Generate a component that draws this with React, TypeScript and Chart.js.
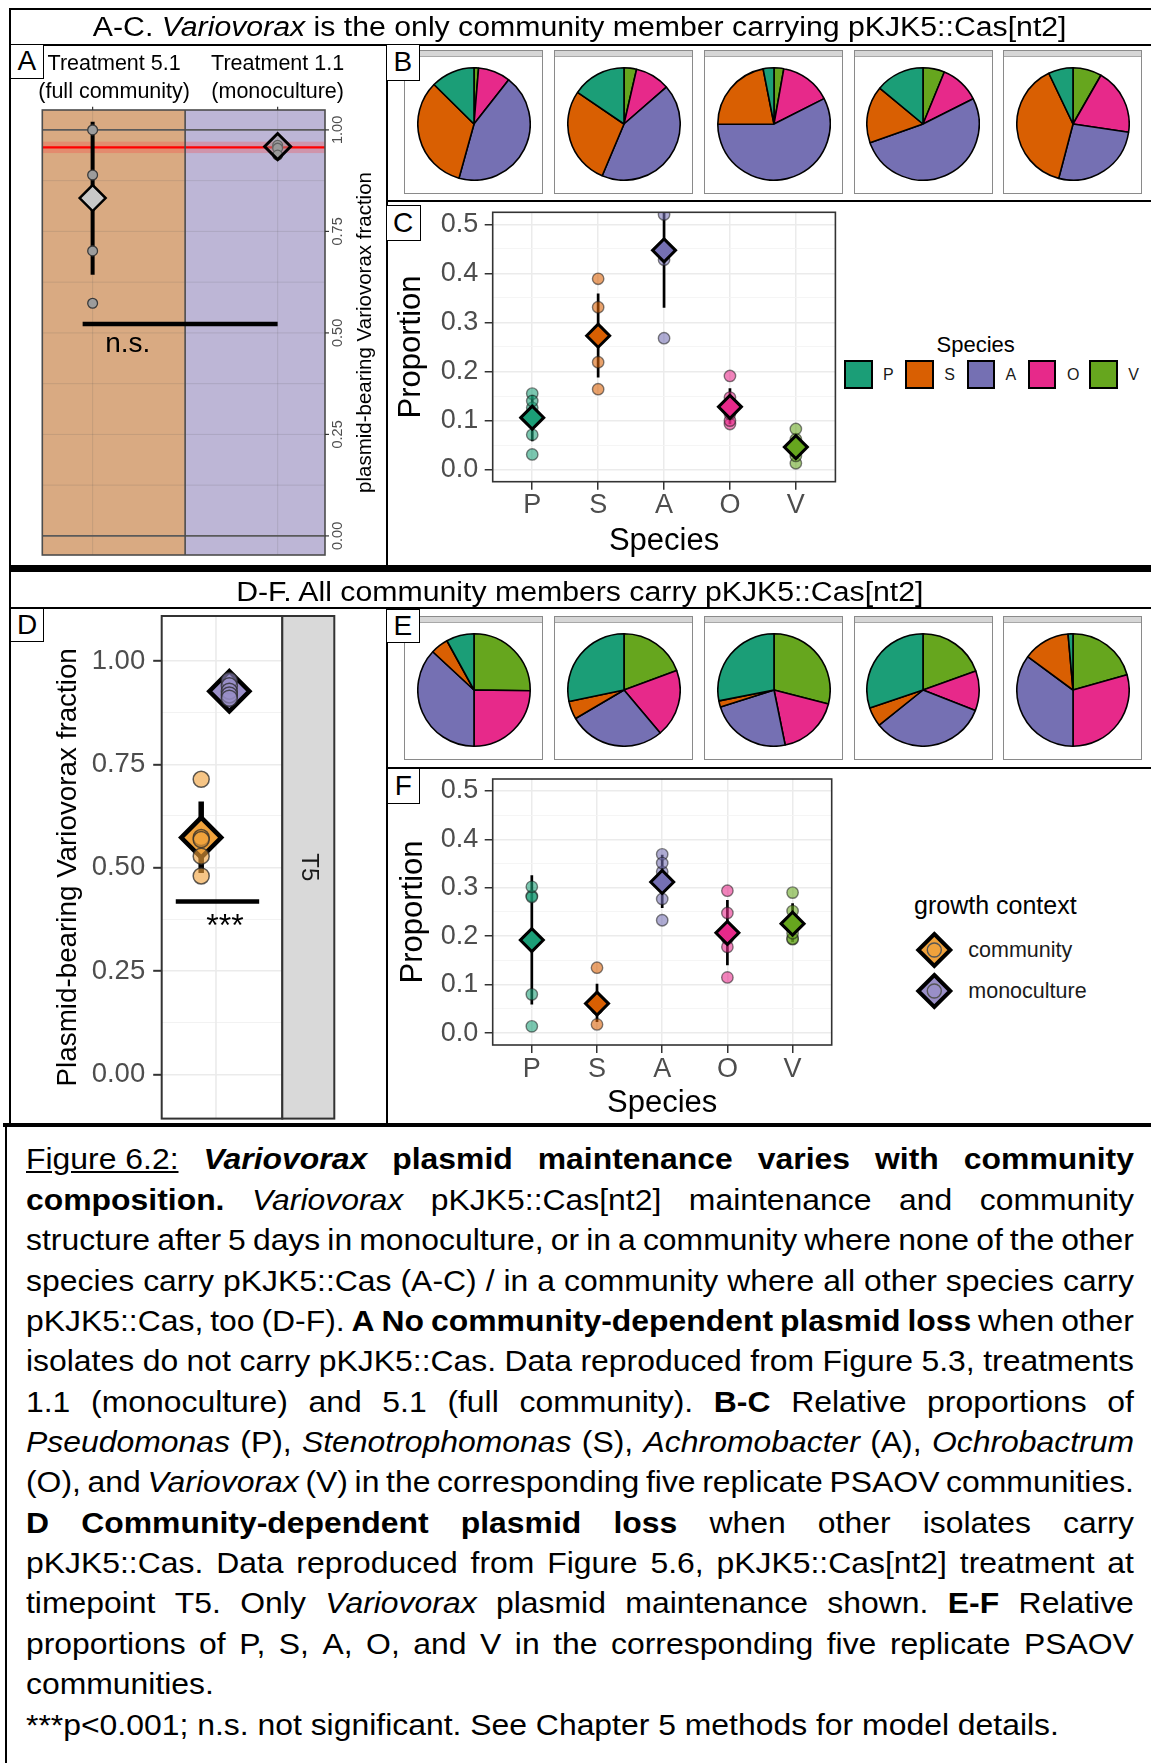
import React, { useEffect, useRef } from 'react';
import { Chart, registerables } from 'chart.js';

Chart.register(...registerables);

const FONT = '"Liberation Sans", Arial, Helvetica, sans-serif';
Chart.defaults.font.family = FONT;

// ---------------------------------------------------------------------------
// Species (Dark2 palette)
const SPECIES = ['P', 'S', 'A', 'O', 'V'];
const SPECIES_COLORS = ['#1B9E77', '#D95F02', '#7570B3', '#E7298A', '#66A61E'];
// pies run clockwise from 12 o'clock: V, O, A, S, P
const PIE_ORDER = [4, 3, 2, 1, 0];

// B-C: treatment 5.1 communities, species proportion in replicates 1-5
const fullP = [0.126, 0.155, 0.031, 0.14, 0.071];
const fullS = [0.331, 0.282, 0.219, 0.164, 0.389];
const fullA = [0.437, 0.428, 0.573, 0.52, 0.268];
const fullO = [0.093, 0.1, 0.147, 0.114, 0.191];
const fullV = [0.013, 0.036, 0.028, 0.062, 0.083];
const fullMean = [0.106, 0.273, 0.447, 0.128, 0.046];
const fullLower = [0.058, 0.188, 0.33, 0.093, 0.022];
const fullUpper = [0.152, 0.359, 0.56, 0.166, 0.071];

// E-F: T5 communities where every member carries the plasmid
const allP = [0.08, 0.283, 0.281, 0.302, 0.014];
const allS = [0.051, 0.052, 0.018, 0.056, 0.135];
const allA = [0.369, 0.277, 0.233, 0.333, 0.351];
const allO = [0.248, 0.195, 0.178, 0.115, 0.294];
const allV = [0.252, 0.194, 0.29, 0.195, 0.206];
const allMean = [0.192, 0.061, 0.312, 0.207, 0.226];
const allLower = [0.059, 0.023, 0.258, 0.14, 0.188];
const allUpper = [0.326, 0.102, 0.368, 0.275, 0.268];

const fullShares = [fullP, fullS, fullA, fullO, fullV];
const allShares = [allP, allS, allA, allO, allV];

const PROPORTION_MAJOR = [0, 0.1, 0.2, 0.3, 0.4, 0.5];
const PROPORTION_MINOR = [0.05, 0.15, 0.25, 0.35, 0.45];

// A: plasmid-bearing Variovorax fraction
const TREATMENT_LABELS = [
  ['Treatment 5.1', '(full community)'],
  ['Treatment 1.1', '(monoculture)'],
];
const fullCommunityFraction = [1.0, 0.889, 0.702, 0.573];
const monocultureFraction = [0.962, 0.955, 0.938];
const treatmentMean = [0.832, 0.959];
const treatmentLower = [0.643, 0.945];
const treatmentUpper = [1.02, 0.972];
const ancestralFraction = 0.957;
const ancestralRange = [0.943, 0.971];
const nsLevel = 0.522;

// D: T5, every member carries pKJK5::Cas[nt2]
const GROWTH_CONTEXT = ['community', 'monoculture'];
const communityT5 = [0.714, 0.573, 0.568, 0.528, 0.48];
const monocultureT5 = [0.953, 0.94, 0.927, 0.918, 0.91];
const contextMean = [0.573, 0.927];
const contextLower = [0.487, 0.915];
const contextUpper = [0.66, 0.939];
const sigLevel = 0.418;

const FRACTION_MAJOR = [0, 0.25, 0.5, 0.75, 1];
const FRACTION_MINOR = [0.125, 0.375, 0.625, 0.875];

// ---------------------------------------------------------------------------
const hexA = (hex: string, a: number) => {
  const n = parseInt(hex.slice(1), 16);
  return `rgba(${(n >> 16) & 255},${(n >> 8) & 255},${n & 255},${a})`;
};
const inList = (list: number[], v: number) => list.some((m) => Math.abs(m - v) < 1e-6);

const BASE: any = {
  responsive: false,
  animation: false,
  devicePixelRatio: 1,
  events: [],
  plugins: { legend: { display: false }, tooltip: { enabled: false } },
};

// fixed axis box sizes; labels may overhang the plot edges
const fixWidth = (w: number) => (sc: any) => {
  sc.width = w;
  sc.paddingTop = 0;
  sc.paddingBottom = 0;
};
const fixHeight = (h: number) => (sc: any) => {
  sc.height = h;
  sc.paddingLeft = 0;
  sc.paddingRight = 0;
};

const panelBorder = (color: string, width: number) => ({
  id: 'panelBorder',
  afterDatasetsDraw(chart: any) {
    const { ctx, chartArea: a } = chart;
    ctx.save();
    ctx.strokeStyle = color;
    ctx.lineWidth = width;
    ctx.strokeRect(a.left, a.top, a.right - a.left, a.bottom - a.top);
    ctx.restore();
  },
});

// ---------------------------------------------------------------------------
// Panel A
const BAND_COLORS = ['#D9AA82', '#BDB6D6'];
const panelAPlugin = {
  id: 'panelA',
  beforeDatasetsDraw(chart: any) {
    const { ctx, chartArea: a, scales } = chart;
    const x = scales.x;
    const y = scales.y;
    const hline = (py: number) => {
      ctx.beginPath();
      ctx.moveTo(a.left, py);
      ctx.lineTo(a.right, py);
      ctx.stroke();
    };
    const vline = (px: number) => {
      ctx.beginPath();
      ctx.moveTo(px, a.top);
      ctx.lineTo(px, a.bottom);
      ctx.stroke();
    };
    const mid = x.getPixelForValue(0.5);
    ctx.save();
    ctx.fillStyle = BAND_COLORS[0];
    ctx.fillRect(a.left, a.top, mid - a.left, a.bottom - a.top);
    ctx.fillStyle = BAND_COLORS[1];
    ctx.fillRect(mid, a.top, a.right - mid, a.bottom - a.top);

    ctx.strokeStyle = 'rgba(90,90,90,0.16)';
    ctx.lineWidth = 1;
    [...FRACTION_MAJOR.slice(1, 4), ...FRACTION_MINOR].forEach((v) => hline(y.getPixelForValue(v)));
    TREATMENT_LABELS.forEach((_, i) => vline(x.getPixelForValue(i)));

    ctx.strokeStyle = '#5A5A5A';
    ctx.lineWidth = 1.6;
    [0, 1].forEach((v) => hline(y.getPixelForValue(v)));

    const t = y.getPixelForValue(ancestralRange[1]);
    const b = y.getPixelForValue(ancestralRange[0]);
    ctx.fillStyle = 'rgba(255,60,60,0.28)';
    ctx.fillRect(a.left, t, a.right - a.left, b - t);
    ctx.strokeStyle = '#FF0000';
    ctx.lineWidth = 2.2;
    hline(y.getPixelForValue(ancestralFraction));

    ctx.strokeStyle = '#4D4D4D';
    ctx.lineWidth = 1.6;
    ctx.strokeRect(a.left, a.top, a.right - a.left, a.bottom - a.top);
    vline(mid);
    ctx.restore();
  },
  afterDatasetsDraw(chart: any) {
    const { ctx, scales } = chart;
    ctx.save();
    ctx.fillStyle = '#000';
    ctx.font = `28px ${FONT}`;
    ctx.textAlign = 'center';
    ctx.textBaseline = 'alphabetic';
    ctx.fillText('n.s.', scales.x.getPixelForValue(0.19), scales.y.getPixelForValue(nsLevel) + 28.5);
    ctx.restore();
  },
  afterDraw(chart: any) {
    const { ctx, chartArea: a, scales } = chart;
    const x = scales.x;
    const y = scales.y;
    ctx.save();
    // right-hand axis
    ctx.strokeStyle = '#333';
    ctx.lineWidth = 1.2;
    ctx.fillStyle = '#4D4D4D';
    ctx.font = `14.5px ${FONT}`;
    ctx.textAlign = 'center';
    ctx.textBaseline = 'middle';
    FRACTION_MAJOR.forEach((v) => {
      const py = y.getPixelForValue(v);
      ctx.beginPath();
      ctx.moveTo(a.right, py);
      ctx.lineTo(a.right + 4, py);
      ctx.stroke();
      ctx.save();
      ctx.translate(a.right + 13, py);
      ctx.rotate(-Math.PI / 2);
      ctx.fillText(v.toFixed(2), 0, 0);
      ctx.restore();
    });
    ctx.save();
    ctx.translate(a.right + 40, (a.top + a.bottom) / 2);
    ctx.rotate(-Math.PI / 2);
    ctx.fillStyle = '#000';
    ctx.font = `20.5px ${FONT}`;
    ctx.fillText('plasmid-bearing Variovorax fraction', 0, 0);
    ctx.restore();
    // treatment headers on the top axis
    const nudge = [21.5, 0];
    ctx.fillStyle = '#000';
    ctx.font = `21.5px ${FONT}`;
    TREATMENT_LABELS.forEach((lines, i) => {
      const px = x.getPixelForValue(i);
      ctx.beginPath();
      ctx.moveTo(px, a.top - 3.3);
      ctx.lineTo(px, a.top);
      ctx.stroke();
      lines.forEach((ln, j) => ctx.fillText(ln, px + nudge[i], a.top - 46 + j * 27.7));
    });
    ctx.restore();
  },
};

function buildPanelA(): any {
  const errorBars = TREATMENT_LABELS.map((_, i) => ({
    data: [
      { x: i, y: treatmentLower[i] },
      { x: i, y: treatmentUpper[i] },
    ],
    showLine: true,
    borderColor: '#000',
    borderWidth: 4,
    pointRadius: 0,
    order: 3,
  }));
  return {
    type: 'scatter',
    data: {
      datasets: [
        ...errorBars,
        {
          data: [
            { x: -0.054, y: nsLevel },
            { x: 1, y: nsLevel },
          ],
          showLine: true,
          borderColor: '#000',
          borderWidth: 4.5,
          pointRadius: 0,
          order: 4,
        },
        {
          data: [
            ...fullCommunityFraction.map((v) => ({ x: 0, y: v })),
            ...monocultureFraction.map((v) => ({ x: 1, y: v })),
          ],
          pointRadius: 4.9,
          pointBackgroundColor: '#9C9C9C',
          pointBorderColor: '#3A3A3A',
          pointBorderWidth: 1.3,
          order: 2,
        },
        {
          data: treatmentMean.map((v, i) => ({ x: i, y: v })),
          pointStyle: 'rectRot',
          pointRadius: 13,
          pointBackgroundColor: ['#C8C8C8', 'rgba(150,150,150,0.45)'],
          pointBorderColor: '#000',
          pointBorderWidth: [2.5, 3],
          order: 1,
        },
      ],
    },
    options: {
      ...BASE,
      layout: { autoPadding: false, padding: { left: 32.3, top: 65, right: 61, bottom: 10 } },
      scales: {
        x: { type: 'linear', display: false, min: -0.272, max: 1.256 },
        y: { type: 'linear', display: false, min: -0.047, max: 1.049 },
      },
    },
    plugins: [panelAPlugin],
  };
}

// ---------------------------------------------------------------------------
// Panels C and F
function buildProportion(
  shares: number[][],
  mean: number[],
  lower: number[],
  upper: number[],
  g: { pad: any; yWidth: number; xHeight: number; yTitlePad: number; xTitlePad: number }
): any {
  const datasets: any[] = [];
  SPECIES.forEach((s, i) => {
    datasets.push({
      label: `${s} interval`,
      data: [
        { x: i, y: lower[i] },
        { x: i, y: upper[i] },
      ],
      showLine: true,
      borderColor: '#000',
      borderWidth: 2.7,
      pointRadius: 0,
      order: 3,
    });
    datasets.push({
      label: `${s} replicates`,
      data: shares[i].map((v) => ({ x: i, y: v })),
      pointRadius: 5.7,
      pointBackgroundColor: hexA(SPECIES_COLORS[i], 0.58),
      pointBorderColor: 'rgba(30,30,30,0.55)',
      pointBorderWidth: 1.4,
      order: 2,
    });
    datasets.push({
      label: `${s} mean`,
      data: [{ x: i, y: mean[i] }],
      pointStyle: 'rectRot',
      pointRadius: 11.5,
      pointBackgroundColor: SPECIES_COLORS[i],
      pointBorderColor: '#000',
      pointBorderWidth: 3,
      order: 1,
    });
  });
  const major = (c: any) => c.tick && inList(PROPORTION_MAJOR, c.tick.value);
  return {
    type: 'scatter',
    data: { datasets },
    options: {
      ...BASE,
      layout: { autoPadding: false, padding: g.pad },
      scales: {
        x: {
          type: 'linear',
          min: -0.6,
          max: SPECIES.length - 0.4,
          afterBuildTicks: (sc: any) => {
            sc.ticks = SPECIES.map((_, i) => ({ value: i }));
          },
          afterFit: fixHeight(g.xHeight),
          ticks: {
            callback: (v: any) => SPECIES[Math.round(v)] ?? '',
            font: { size: 27 },
            color: '#4D4D4D',
            padding: 0,
            maxRotation: 0,
            autoSkip: false,
          },
          grid: { color: '#EBEBEB', lineWidth: 1.5, tickLength: 8, tickColor: '#333', tickWidth: 1.5 },
          border: { display: false },
          title: {
            display: true,
            text: 'Species',
            font: { size: 31 },
            color: '#000',
            padding: { top: 0, bottom: g.xTitlePad },
          },
        },
        y: {
          type: 'linear',
          min: -0.0245,
          max: 0.5245,
          afterBuildTicks: (sc: any) => {
            sc.ticks = [...PROPORTION_MAJOR, ...PROPORTION_MINOR].sort((p, q) => p - q).map((v) => ({ value: v }));
          },
          afterFit: fixWidth(g.yWidth),
          ticks: {
            callback: (v: any) => (inList(PROPORTION_MAJOR, v) ? Number(v).toFixed(1) : ''),
            font: { size: 27 },
            color: '#4D4D4D',
            padding: 6.4,
            autoSkip: false,
          },
          grid: {
            color: (c: any) => (major(c) ? '#EBEBEB' : '#F4F4F4'),
            lineWidth: (c: any) => (major(c) ? 1.5 : 0.9),
            tickLength: 8,
            tickColor: (c: any) => (major(c) ? '#333' : 'rgba(0,0,0,0)'),
            tickWidth: 1.5,
          },
          border: { display: false },
          title: {
            display: true,
            text: 'Proportion',
            font: { size: 31 },
            color: '#000',
            padding: { top: g.yTitlePad, bottom: 0 },
          },
        },
      },
    },
    plugins: [panelBorder('#333', 1.6)],
  };
}

const buildPanelC = () =>
  buildProportion(fullShares, fullMean, fullLower, fullUpper, {
    pad: { left: 0, top: 7.3, right: 4.6, bottom: 0 },
    yWidth: 102.7,
    xHeight: 83.3,
    yTitlePad: 3.1,
    xTitlePad: 4.7,
  });

const buildPanelF = () =>
  buildProportion(allShares, allMean, allLower, allUpper, {
    pad: { left: 0, top: 7, right: 8.3, bottom: 0 },
    yWidth: 102.7,
    xHeight: 78,
    yTitlePad: 4.7,
    xTitlePad: 1.1,
  });

// ---------------------------------------------------------------------------
// Panel D
const CONTEXT_FILL = ['#F0A23C', '#9A8FC8'];
const CONTEXT_X = [-0.147, 0.133];
const panelDPlugin = {
  id: 'panelD',
  beforeDatasetsDraw(chart: any) {
    const { ctx, chartArea: a, scales } = chart;
    const px = scales.x.getPixelForValue(0);
    ctx.save();
    ctx.strokeStyle = '#EBEBEB';
    ctx.lineWidth = 1.6;
    ctx.beginPath();
    ctx.moveTo(px, a.top);
    ctx.lineTo(px, a.bottom);
    ctx.stroke();
    ctx.restore();
  },
  afterDatasetsDraw(chart: any) {
    const { ctx, chartArea: a, scales } = chart;
    const stripW = 52;
    ctx.save();
    ctx.strokeStyle = '#333';
    ctx.lineWidth = 2;
    ctx.strokeRect(a.left, a.top, a.right - a.left, a.bottom - a.top);
    ctx.fillStyle = '#D9D9D9';
    ctx.fillRect(a.right, a.top, stripW, a.bottom - a.top);
    ctx.strokeRect(a.right, a.top, stripW, a.bottom - a.top);
    ctx.save();
    ctx.translate(a.right + stripW / 2, (a.top + a.bottom) / 2);
    ctx.rotate(Math.PI / 2);
    ctx.fillStyle = '#1A1A1A';
    ctx.font = `24px ${FONT}`;
    ctx.textAlign = 'center';
    ctx.textBaseline = 'middle';
    ctx.fillText('T5', 0, 0);
    ctx.restore();
    ctx.fillStyle = '#000';
    ctx.font = `32px ${FONT}`;
    ctx.textAlign = 'center';
    ctx.textBaseline = 'alphabetic';
    ctx.fillText('***', scales.x.getPixelForValue(0.09), scales.y.getPixelForValue(sigLevel) + 34);
    ctx.restore();
  },
};

function buildPanelD(): any {
  const major = (c: any) => c.tick && inList(FRACTION_MAJOR, c.tick.value);
  const groups = [communityT5, monocultureT5];
  return {
    type: 'scatter',
    data: {
      datasets: [
        ...GROWTH_CONTEXT.map((_, i) => ({
          data: [
            { x: CONTEXT_X[i], y: contextLower[i] },
            { x: CONTEXT_X[i], y: contextUpper[i] },
          ],
          showLine: true,
          borderColor: '#000',
          borderWidth: 5.5,
          pointRadius: 0,
          order: 4,
        })),
        {
          data: [
            { x: -0.4, y: sigLevel },
            { x: 0.43, y: sigLevel },
          ],
          showLine: true,
          borderColor: '#000',
          borderWidth: 4.5,
          pointRadius: 0,
          order: 5,
        },
        {
          data: contextMean.map((v, i) => ({ x: CONTEXT_X[i], y: v })),
          pointStyle: 'rectRot',
          pointRadius: 20,
          pointBackgroundColor: CONTEXT_FILL,
          pointBorderColor: '#000',
          pointBorderWidth: 4.5,
          order: 2,
        },
        ...groups.map((vals, i) => ({
          data: vals.map((v) => ({ x: CONTEXT_X[i], y: v })),
          pointRadius: 8,
          pointBackgroundColor: hexA(CONTEXT_FILL[i], 0.62),
          pointBorderColor: 'rgba(40,40,40,0.75)',
          pointBorderWidth: 1.5,
          order: 1,
        })),
      ],
    },
    options: {
      ...BASE,
      layout: { autoPadding: false, padding: { left: 0, top: 8, right: 103.7, bottom: 6.4 } },
      scales: {
        x: { type: 'linear', display: false, min: -0.54, max: 0.66 },
        y: {
          type: 'linear',
          min: -0.107,
          max: 1.109,
          afterBuildTicks: (sc: any) => {
            sc.ticks = [...FRACTION_MAJOR, ...FRACTION_MINOR].sort((p, q) => p - q).map((v) => ({ value: v }));
          },
          afterFit: fixWidth(151.7),
          ticks: {
            callback: (v: any) => (inList(FRACTION_MAJOR, v) ? Number(v).toFixed(2) : ''),
            font: { size: 27.5 },
            color: '#4D4D4D',
            padding: 8,
            autoSkip: false,
          },
          grid: {
            color: (c: any) => (major(c) ? '#EBEBEB' : '#F2F2F2'),
            lineWidth: (c: any) => (major(c) ? 1.6 : 1.1),
            tickLength: 8.5,
            tickColor: (c: any) => (major(c) ? '#333' : 'rgba(0,0,0,0)'),
            tickWidth: 2,
          },
          border: { display: false },
          title: {
            display: true,
            text: 'Plasmid-bearing Variovorax fraction',
            font: { size: 27.8 },
            color: '#000',
            padding: { top: 41.6, bottom: 0 },
          },
        },
      },
    },
    plugins: [panelDPlugin],
  };
}

// ---------------------------------------------------------------------------
// Pies (B and E)
function buildPie(shares: number[][], rep: number): any {
  return {
    type: 'pie',
    data: {
      labels: PIE_ORDER.map((i) => SPECIES[i]),
      datasets: [
        {
          data: PIE_ORDER.map((i) => shares[i][rep]),
          backgroundColor: PIE_ORDER.map((i) => SPECIES_COLORS[i]),
          borderColor: '#000',
          borderWidth: 1.6,
          hoverOffset: 0,
          offset: 0,
        },
      ],
    },
    options: { ...BASE, layout: { padding: 0 } },
  };
}

// ---------------------------------------------------------------------------
function ChartBox({ left, top, width, height, build }: any) {
  const ref = useRef<HTMLCanvasElement | null>(null);
  useEffect(() => {
    if (!ref.current) return;
    const chart = new Chart(ref.current, build());
    return () => chart.destroy();
  }, []);
  return (
    <canvas
      ref={ref}
      width={width}
      height={height}
      style={{ position: 'absolute', left, top, width, height, display: 'block' }}
    />
  );
}

const Rule = ({ x, y, w, h }: any) => (
  <div style={{ position: 'absolute', left: x, top: y, width: w, height: h, background: '#000' }} />
);

const PanelTag = ({ x, y, w, h, letter }: any) => (
  <div
    style={{
      position: 'absolute',
      left: x,
      top: y,
      width: w,
      height: h,
      boxSizing: 'border-box',
      border: '1.5px solid #000',
      background: '#fff',
      fontSize: 28,
      lineHeight: `${h - 3}px`,
      textAlign: 'center',
      color: '#000',
    }}
  >
    {letter}
  </div>
);

const PIE_BOX_LEFT = [404, 554, 704, 853.5, 1003];
const PIE_BOX_W = 139;
const PIE_BOX_H = 144;
const PIE_SIZE = 114;

function PieRow({ top, shares }: { top: number; shares: number[][] }) {
  return (
    <>
      {PIE_BOX_LEFT.map((l, r) => (
        <React.Fragment key={r}>
          <div
            style={{
              position: 'absolute',
              left: l,
              top,
              width: PIE_BOX_W,
              height: PIE_BOX_H,
              boxSizing: 'border-box',
              border: '1.5px solid #8A8A8A',
              background: '#fff',
            }}
          >
            <div style={{ height: 5, background: '#D6D6D6', borderBottom: '1px solid #A8A8A8' }} />
          </div>
          <ChartBox
            left={l + PIE_BOX_W / 2 - PIE_SIZE / 2}
            top={top + 73.5 - PIE_SIZE / 2}
            width={PIE_SIZE}
            height={PIE_SIZE}
            build={() => buildPie(shares, r)}
          />
        </React.Fragment>
      ))}
    </>
  );
}

// ---------------------------------------------------------------------------
// Caption
type Seg = [string, string?];
const CAPTION_LINES: [Seg[], boolean][] = [
  [[['Figure\u00a06.2:', 'u'], ['Variovorax', 'bi'], ['plasmid maintenance varies with community', 'b']], true],
  [[['composition.', 'b'], ['Variovorax', 'i'], ['pKJK5::Cas[nt2] maintenance and community']], true],
  [[['structure after 5 days in monoculture, or in a community where none of the other']], true],
  [[['species carry pKJK5::Cas (A-C) / in a community where all other species carry']], true],
  [[['pKJK5::Cas, too (D-F).'], ['A No community-dependent plasmid loss', 'b'], ['when other']], true],
  [[['isolates do not carry pKJK5::Cas. Data reproduced from Figure 5.3, treatments']], true],
  [[['1.1 (monoculture) and 5.1 (full community).'], ['B-C', 'b'], ['Relative proportions of']], true],
  [
    [
      ['Pseudomonas', 'i'],
      ['(P),'],
      ['Stenotrophomonas', 'i'],
      ['(S),'],
      ['Achromobacter', 'i'],
      ['(A),'],
      ['Ochrobactrum', 'i'],
    ],
    true,
  ],
  [[['(O), and'], ['Variovorax', 'i'], ['(V) in the corresponding five replicate PSAOV communities.']], true],
  [[['D Community-dependent plasmid loss', 'b'], ['when other isolates carry']], true],
  [[['pKJK5::Cas. Data reproduced from Figure 5.6, pKJK5::Cas[nt2] treatment at']], true],
  [[['timepoint T5. Only'], ['Variovorax', 'i'], ['plasmid maintenance shown.'], ['E-F', 'b'], ['Relative']], true],
  [[['proportions of P, S, A, O, and V in the corresponding five replicate PSAOV']], true],
  [[['communities.']], false],
  [[['***p<0.001; n.s. not significant. See Chapter 5 methods for model details.']], false],
];

const CAPTION_STRETCH = 1.1;
const CAPTION_WIDTH = 1108;
const CAPTION_LINE = 40.36;

const segStyle = (s?: string): React.CSSProperties => ({
  fontWeight: s && s.includes('b') ? 'bold' : 'normal',
  fontStyle: s && s.includes('i') ? 'italic' : 'normal',
  textDecoration: s === 'u' ? 'underline' : 'none',
});

function Caption() {
  return (
    <div
      style={{
        position: 'absolute',
        left: 26,
        top: 1139.8,
        width: CAPTION_WIDTH / CAPTION_STRETCH,
        transform: `scaleX(${CAPTION_STRETCH})`,
        transformOrigin: '0 0',
        fontSize: 29,
        color: '#000',
      }}
    >
      {CAPTION_LINES.map(([segs, justify], li) => {
        const words: JSX.Element[] = [];
        segs.forEach((seg, si) =>
          seg[0].split(' ').forEach((w, wi) =>
            words.push(
              <span key={`${si}-${wi}`} style={segStyle(seg[1])}>
                {w}
              </span>
            )
          )
        );
        return (
          <div
            key={li}
            style={{
              display: 'flex',
              justifyContent: justify ? 'space-between' : 'flex-start',
              columnGap: justify ? 0 : '0.278em',
              whiteSpace: 'nowrap',
              height: CAPTION_LINE,
              alignItems: 'center',
            }}
          >
            {words}
          </div>
        );
      })}
    </div>
  );
}

const Heading = ({ top, children }: any) => (
  <div
    style={{
      position: 'absolute',
      left: 9,
      top,
      width: 1142,
      height: 34,
      lineHeight: '34px',
      textAlign: 'center',
      fontSize: 27,
      color: '#000',
      whiteSpace: 'nowrap',
    }}
  >
    <span style={{ display: 'inline-block', transform: 'scaleX(1.12)' }}>{children}</span>
  </div>
);

// ---------------------------------------------------------------------------
export default function App() {
  return (
    <div
      style={{
        position: 'absolute',
        left: 0,
        top: 0,
        width: 1151,
        height: 1763,
        background: '#fff',
        overflow: 'hidden',
        fontFamily: FONT,
      }}
    >
      {/* charts */}
      <ChartBox left={10} top={45} width={376} height={520} build={buildPanelA} />
      <PieRow top={50} shares={fullShares} />
      <ChartBox left={390} top={205} width={450} height={360} build={buildPanelC} />
      <ChartBox left={10} top={608} width={376} height={517} build={buildPanelD} />
      <PieRow top={616} shares={allShares} />
      <ChartBox left={390} top={772} width={450} height={351} build={buildPanelF} />

      {/* species legend */}
      <div
        style={{
          position: 'absolute',
          left: 900.7,
          width: 150,
          top: 332,
          fontSize: 22,
          lineHeight: '26px',
          textAlign: 'center',
          color: '#000',
        }}
      >
        Species
      </div>
      {SPECIES.map((s, i) => (
        <React.Fragment key={s}>
          <div
            style={{
              position: 'absolute',
              left: 844 + i * 61.3,
              top: 360,
              width: 28.5,
              height: 29.3,
              boxSizing: 'border-box',
              border: '2px solid #000',
              background: SPECIES_COLORS[i],
            }}
          />
          <div
            style={{
              position: 'absolute',
              left: 844 + i * 61.3 + 39,
              top: 364,
              fontSize: 16,
              lineHeight: '21px',
              color: '#1A1A1A',
            }}
          >
            {s}
          </div>
        </React.Fragment>
      ))}

      {/* growth context legend */}
      <div style={{ position: 'absolute', left: 914, top: 890, fontSize: 25, lineHeight: '30px', color: '#000' }}>
        growth context
      </div>
      {GROWTH_CONTEXT.map((c, i) => (
        <React.Fragment key={c}>
          <svg
            style={{ position: 'absolute', left: 914, top: 930 + i * 40.7 }}
            width={41}
            height={41}
            viewBox="0 0 41 41"
          >
            <polygon points="20.3,4 36.3,20 20.3,36 4.3,20" fill={CONTEXT_FILL[i]} stroke="#000" strokeWidth={4} />
            <circle cx={20.3} cy={20} r={7} fill={hexA(CONTEXT_FILL[i], 0.6)} stroke="#555" strokeWidth={1.4} />
          </svg>
          <div
            style={{
              position: 'absolute',
              left: 968.3,
              top: 937 + i * 40.7,
              fontSize: 21.5,
              lineHeight: '26px',
              color: '#1A1A1A',
            }}
          >
            {c}
          </div>
        </React.Fragment>
      ))}

      {/* frames */}
      <Rule x={9} y={7.5} w={1142} h={2} />
      <Rule x={9} y={7.5} w={2} h={558} />
      <Rule x={9} y={43.5} w={1142} h={2} />
      <Rule x={385.5} y={43.5} w={2} h={522} />
      <Rule x={385.5} y={200} w={766} h={2} />
      <Rule x={9} y={565} w={1142} h={7} />
      <Rule x={9} y={565} w={2} h={560} />
      <Rule x={9} y={606.5} w={1142} h={2} />
      <Rule x={385.5} y={606.5} w={2} h={518} />
      <Rule x={385.5} y={766.5} w={766} h={2} />
      <Rule x={3} y={1122.5} w={1148} h={4.5} />
      <Rule x={4.5} y={1122.5} w={2} h={641} />

      <Heading top={9.5}>
        A-C. <i>Variovorax</i> is the only community member carrying pKJK5::Cas[nt2]
      </Heading>
      <Heading top={574.5}>D-F. All community members carry pKJK5::Cas[nt2]</Heading>

      <PanelTag x={10} y={44} w={33.5} h={35} letter="A" />
      <PanelTag x={386} y={44} w={33.5} h={37} letter="B" />
      <PanelTag x={385.5} y={204.5} w={35} h={36} letter="C" />
      <PanelTag x={10} y={608} w={34} h={34} letter="D" />
      <PanelTag x={386} y={609} w={33.5} h={34} letter="E" />
      <PanelTag x={386.5} y={768} w={33.5} h={36} letter="F" />

      <Caption />
    </div>
  );
}
